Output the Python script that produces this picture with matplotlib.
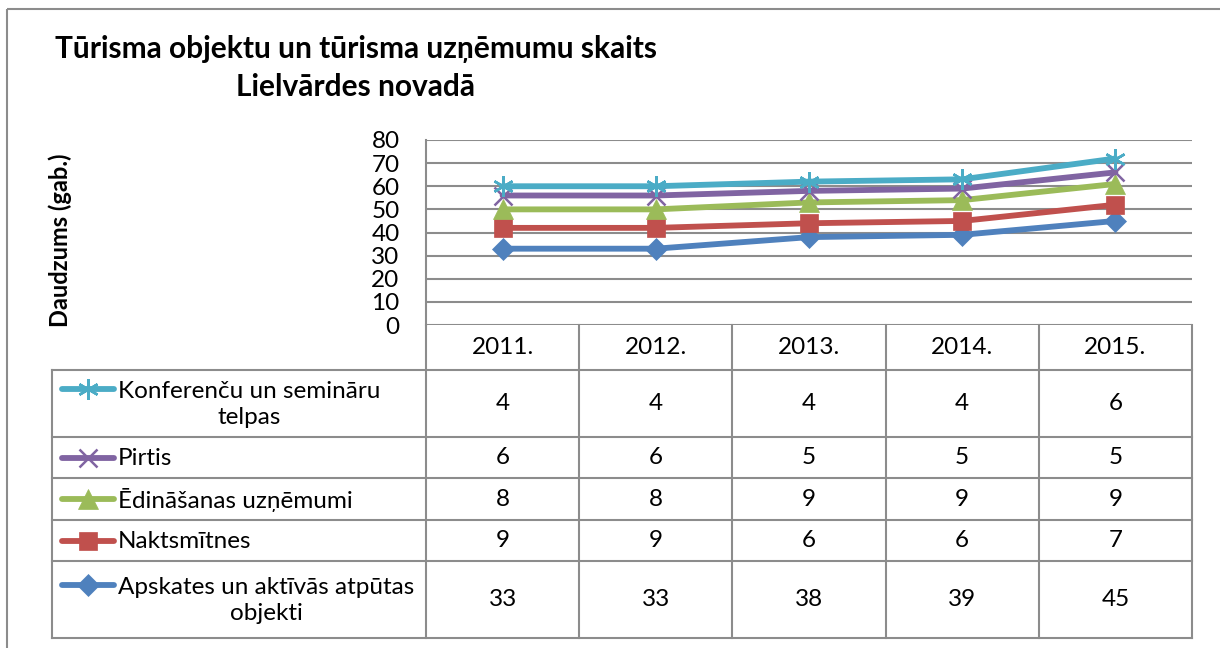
import numpy as np
import matplotlib.pyplot as plt
from matplotlib.lines import Line2D
from matplotlib.patches import Rectangle

plt.rcParams['font.family'] = ['Lato', 'DejaVu Sans']

years = ['2011.', '2012.', '2013.', '2014.', '2015.']
# bottom to top (stacked order)
series_names = ['Apskates un aktīvās atpūtas\nobjekti', 'Naktsmītnes', 'Ēdināšanas uzņēmumi',
                'Pirtis', 'Konferenču un semināru\ntelpas']
apskates = [33, 33, 38, 39, 45]
naktsmitnes = [9, 9, 6, 6, 7]
edinasanas = [8, 8, 9, 9, 9]
pirtis = [6, 6, 5, 5, 5]
konferences = [4, 4, 4, 4, 6]
series_values = [apskates, naktsmitnes, edinasanas, pirtis, konferences]

colors = ['#4F81BD', '#C0504D', '#9BBB59', '#8064A2', '#4BACC6']
markers = ['D', 's', '^', 'x', (6, 2, 0)]
msizes = [11, 13, 14, 13, 15]

W, H = 1220, 648
fig = plt.figure(figsize=(W / 100, H / 100), dpi=100)
FS = 17.5

# plot area in pixels
px_l, px_r, px_t, px_b = 426, 1192, 140, 325
ax = fig.add_axes([px_l / W, 1 - px_b / H, (px_r - px_l) / W, (px_b - px_t) / H])


def edge_w(m):
    return 1.8 if m in ('x',) or isinstance(m, tuple) else 0.5


stacked = np.cumsum(np.array(series_values), axis=0)
x = np.arange(len(years))
for vals, c, m, ms in zip(stacked, colors, markers, msizes):
    ax.plot(x, vals, color=c, lw=4.2, marker=m, markersize=ms,
            markeredgewidth=edge_w(m), markeredgecolor=c,
            solid_capstyle='round', zorder=3)

ax.set_xlim(-0.5, len(years) - 0.5)
ax.set_ylim(0, 80)
ax.set_yticks(range(0, 81, 10))
ax.yaxis.grid(True, color='#8c8c8c', lw=1.5)
ax.set_axisbelow(True)
ax.set_xticks([])
ax.tick_params(axis='y', length=0, pad=19, labelsize=FS)
for s in ['top', 'right', 'bottom']:
    ax.spines[s].set_visible(False)
ax.spines['left'].set_color('#8c8c8c')
ax.spines['left'].set_linewidth(1.5)

# overlay in pixel coordinates for table, frame and titles
ov = fig.add_axes([0, 0, 1, 1], zorder=-1)
ov.set_xlim(0, W)
ov.set_ylim(H, 0)
ov.axis('off')
ov.add_patch(Rectangle((7, 9), W + 10, H + 10, fill=False, ec='#8c8c8c', lw=1.5))

ov2 = fig.add_axes([0, 0, 1, 1])
ov2.set_xlim(0, W)
ov2.set_ylim(H, 0)
ov2.axis('off')
ov2.patch.set_alpha(0)

gray = '#8c8c8c'
col_x = [px_l + i * (px_r - px_l) / len(years) for i in range(len(years) + 1)]
label_l = 52
row_y = [325, 370, 437, 478, 520, 561, 638]

for xx in col_x:
    ov2.plot([xx, xx], [row_y[0], row_y[-1]], color=gray, lw=1.5)
for yy in row_y[1:]:
    ov2.plot([label_l, px_r], [yy, yy], color=gray, lw=1.5)
ov2.plot([label_l, label_l], [row_y[1], row_y[-1]], color=gray, lw=1.5)
for i, yr in enumerate(years):
    ov2.text((col_x[i] + col_x[i + 1]) / 2, (row_y[0] + row_y[1]) / 2, yr,
             ha='center', va='center', fontsize=FS)

# body rows, top to bottom
for r in range(len(series_names)):
    k = len(series_names) - 1 - r
    yc = (row_y[r + 1] + row_y[r + 2]) / 2
    name = series_names[k]
    two = '\n' in name
    ly = yc - 15 if two else yc
    ov2.add_line(Line2D([62, 114], [ly, ly], color=colors[k], lw=4.2,
                        solid_capstyle='round'))
    ov2.plot([88], [ly], marker=markers[k], color=colors[k],
             markersize=msizes[k], markeredgewidth=edge_w(markers[k]),
             markeredgecolor=colors[k])
    ov2.text(118, yc + 1, name, ha='left', va='center', fontsize=FS,
             multialignment='center', linespacing=1.35)
    for i in range(len(years)):
        ov2.text((col_x[i] + col_x[i + 1]) / 2, yc, str(series_values[k][i]),
                 ha='center', va='center', fontsize=FS)

ov2.text(356, 68, 'Tūrisma objektu un tūrisma uzņēmumu skaits\nLielvārdes novadā',
         ha='center', va='center', fontsize=21.5, fontweight='bold', linespacing=1.45)
ov2.text(60, 240, 'Daudzums (gab.)', rotation=90, ha='center', va='center',
         fontsize=17, fontweight='bold')

fig.savefig('out.png', dpi=100)
